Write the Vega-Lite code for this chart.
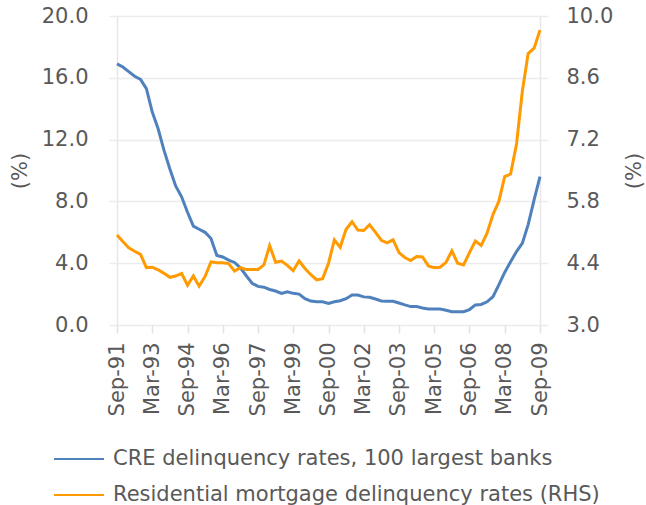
{
  "$schema": "https://vega.github.io/schema/vega-lite/v6.json",
  "width": 439,
  "height": 309,
  "autosize": {"type": "none"},
  "padding": {"left": 109, "top": 16, "right": 98, "bottom": 180},
  "background": "white",
  "config": {
    "font": "DejaVu Sans",
    "view": {"stroke": null},
    "axis": {
      "labelFont": "DejaVu Sans",
      "titleFont": "DejaVu Sans",
      "labelColor": "#595959",
      "titleColor": "#595959",
      "labelFontSize": 21,
      "titleFontSize": 21,
      "titleFontWeight": "normal"
    },
    "legend": {"labelFont": "DejaVu Sans"}
  },
  "data": {
    "values": [
      {"date": "1991-09-15", "cre": 16.9, "rmd": 5.04},
      {"date": "1991-12-15", "cre": 16.7, "rmd": 4.89},
      {"date": "1992-03-15", "cre": 16.4, "rmd": 4.75},
      {"date": "1992-06-15", "cre": 16.1, "rmd": 4.67},
      {"date": "1992-09-15", "cre": 15.9, "rmd": 4.6},
      {"date": "1992-12-15", "cre": 15.3, "rmd": 4.3},
      {"date": "1993-03-15", "cre": 13.8, "rmd": 4.31},
      {"date": "1993-06-15", "cre": 12.7, "rmd": 4.25},
      {"date": "1993-09-15", "cre": 11.3, "rmd": 4.17},
      {"date": "1993-12-15", "cre": 10.1, "rmd": 4.08},
      {"date": "1994-03-15", "cre": 9.0, "rmd": 4.11},
      {"date": "1994-06-15", "cre": 8.3, "rmd": 4.17},
      {"date": "1994-09-15", "cre": 7.3, "rmd": 3.9},
      {"date": "1994-12-15", "cre": 6.4, "rmd": 4.11},
      {"date": "1995-03-15", "cre": 6.2, "rmd": 3.88},
      {"date": "1995-06-15", "cre": 6.0, "rmd": 4.1},
      {"date": "1995-09-15", "cre": 5.6, "rmd": 4.43},
      {"date": "1995-12-15", "cre": 4.5, "rmd": 4.41},
      {"date": "1996-03-15", "cre": 4.4, "rmd": 4.41},
      {"date": "1996-06-15", "cre": 4.2, "rmd": 4.39},
      {"date": "1996-09-15", "cre": 4.05, "rmd": 4.22},
      {"date": "1996-12-15", "cre": 3.7, "rmd": 4.3},
      {"date": "1997-03-15", "cre": 3.2, "rmd": 4.26},
      {"date": "1997-06-15", "cre": 2.7, "rmd": 4.26},
      {"date": "1997-09-15", "cre": 2.5, "rmd": 4.26},
      {"date": "1997-12-15", "cre": 2.45, "rmd": 4.36},
      {"date": "1998-03-15", "cre": 2.3, "rmd": 4.8},
      {"date": "1998-06-15", "cre": 2.2, "rmd": 4.42},
      {"date": "1998-09-15", "cre": 2.05, "rmd": 4.45},
      {"date": "1998-12-15", "cre": 2.15, "rmd": 4.35},
      {"date": "1999-03-15", "cre": 2.05, "rmd": 4.23},
      {"date": "1999-06-15", "cre": 2.0, "rmd": 4.45},
      {"date": "1999-09-15", "cre": 1.7, "rmd": 4.28},
      {"date": "1999-12-15", "cre": 1.55, "rmd": 4.14},
      {"date": "2000-03-15", "cre": 1.5, "rmd": 4.02},
      {"date": "2000-06-15", "cre": 1.5, "rmd": 4.05},
      {"date": "2000-09-15", "cre": 1.4, "rmd": 4.4},
      {"date": "2000-12-15", "cre": 1.5, "rmd": 4.93},
      {"date": "2001-03-15", "cre": 1.57, "rmd": 4.76},
      {"date": "2001-06-15", "cre": 1.7, "rmd": 5.17},
      {"date": "2001-09-15", "cre": 1.94, "rmd": 5.34},
      {"date": "2001-12-15", "cre": 1.94, "rmd": 5.15},
      {"date": "2002-03-15", "cre": 1.82, "rmd": 5.14},
      {"date": "2002-06-15", "cre": 1.79, "rmd": 5.27},
      {"date": "2002-09-15", "cre": 1.68, "rmd": 5.1},
      {"date": "2002-12-15", "cre": 1.56, "rmd": 4.92},
      {"date": "2003-03-15", "cre": 1.53, "rmd": 4.86},
      {"date": "2003-06-15", "cre": 1.53, "rmd": 4.93},
      {"date": "2003-09-15", "cre": 1.42, "rmd": 4.64},
      {"date": "2003-12-15", "cre": 1.3, "rmd": 4.53},
      {"date": "2004-03-15", "cre": 1.19, "rmd": 4.46},
      {"date": "2004-06-15", "cre": 1.19, "rmd": 4.55},
      {"date": "2004-09-15", "cre": 1.1, "rmd": 4.54},
      {"date": "2004-12-15", "cre": 1.04, "rmd": 4.34},
      {"date": "2005-03-15", "cre": 1.04, "rmd": 4.3},
      {"date": "2005-06-15", "cre": 1.04, "rmd": 4.31},
      {"date": "2005-09-15", "cre": 0.95, "rmd": 4.42},
      {"date": "2005-12-15", "cre": 0.86, "rmd": 4.68},
      {"date": "2006-03-15", "cre": 0.86, "rmd": 4.4},
      {"date": "2006-06-15", "cre": 0.86, "rmd": 4.36},
      {"date": "2006-09-15", "cre": 1.0, "rmd": 4.64},
      {"date": "2006-12-15", "cre": 1.3, "rmd": 4.9},
      {"date": "2007-03-15", "cre": 1.33, "rmd": 4.8},
      {"date": "2007-06-15", "cre": 1.5, "rmd": 5.08},
      {"date": "2007-09-15", "cre": 1.83, "rmd": 5.5},
      {"date": "2007-12-15", "cre": 2.6, "rmd": 5.8},
      {"date": "2008-03-15", "cre": 3.4, "rmd": 6.36},
      {"date": "2008-06-15", "cre": 4.1, "rmd": 6.42},
      {"date": "2008-09-15", "cre": 4.75, "rmd": 7.1},
      {"date": "2008-12-15", "cre": 5.3, "rmd": 8.3},
      {"date": "2009-03-15", "cre": 6.5, "rmd": 9.15},
      {"date": "2009-06-15", "cre": 8.1, "rmd": 9.27},
      {"date": "2009-09-15", "cre": 9.6, "rmd": 9.68}
    ]
  },
  "encoding": {
    "x": {
      "field": "date",
      "type": "temporal",
      "scale": {
        "domain": [{"year": 1991, "month": 9, "date": 15}, {"year": 2009, "month": 9, "date": 15}],
        "padding": 8,
        "nice": false
      },
      "axis": {
        "title": null,
        "values": [
          {"year": 1991, "month": 9, "date": 15},
          {"year": 1993, "month": 3, "date": 15},
          {"year": 1994, "month": 9, "date": 15},
          {"year": 1996, "month": 3, "date": 15},
          {"year": 1997, "month": 9, "date": 15},
          {"year": 1999, "month": 3, "date": 15},
          {"year": 2000, "month": 9, "date": 15},
          {"year": 2002, "month": 3, "date": 15},
          {"year": 2003, "month": 9, "date": 15},
          {"year": 2005, "month": 3, "date": 15},
          {"year": 2006, "month": 9, "date": 15},
          {"year": 2008, "month": 3, "date": 15},
          {"year": 2009, "month": 9, "date": 15}
        ],
        "format": "%b-%y",
        "labelAngle": 270,
        "labelAlign": "right",
        "labelBaseline": "middle",
        "labelFlush": false,
        "labelOverlap": false,
        "labelPadding": 9,
        "tickSize": 8,
        "tickColor": "#e3e3e3",
        "tickWidth": 1.5,
        "domain": false,
        "grid": true,
        "gridWidth": 1.5,
        "gridColor": {
          "condition": {"test": "year(datum.value) == 1991 || year(datum.value) == 2009", "value": "#e8e8e8"},
          "value": "transparent"
        }
      }
    }
  },
  "layer": [
    {
      "mark": {"type": "line", "strokeWidth": 3},
      "encoding": {
        "y": {
          "field": "cre",
          "type": "quantitative",
          "scale": {"domain": [0, 20], "nice": false, "zero": false},
          "axis": {
            "values": [0, 4, 8, 12, 16, 20],
            "format": ".1f",
            "title": "(%)",
            "titlePadding": 11,
            "domain": false,
            "ticks": false,
            "grid": true,
            "gridColor": "#ececec",
            "gridWidth": 1.5,
            "labelPadding": 21
          }
        },
        "color": {
          "datum": "CRE delinquency rates, 100 largest banks",
          "type": "nominal",
          "scale": {
            "domain": ["CRE delinquency rates, 100 largest banks", "Residential mortgage delinquency rates (RHS)"],
            "range": ["#4F81BD", "#FF9A00"]
          },
          "legend": {
            "orient": "none",
            "legendX": -56,
            "legendY": 417,
            "direction": "vertical",
            "title": null,
            "symbolType": "stroke",
            "symbolSize": 2500,
            "symbolStrokeWidth": 2,
            "labelFontSize": 21,
            "labelColor": "#595959",
            "labelOffset": 8,
            "labelLimit": 0,
            "rowPadding": -16
          }
        }
      }
    },
    {
      "mark": {"type": "line", "strokeWidth": 3},
      "encoding": {
        "y": {
          "field": "rmd",
          "type": "quantitative",
          "scale": {"domain": [3, 10], "nice": false, "zero": false},
          "axis": {
            "orient": "right",
            "values": [3, 4.4, 5.8, 7.2, 8.6, 10],
            "format": ".1f",
            "title": "(%)",
            "titleAngle": 270,
            "titlePadding": 32,
            "domain": false,
            "ticks": false,
            "grid": false,
            "labelPadding": 18
          }
        },
        "color": {
          "datum": "Residential mortgage delinquency rates (RHS)",
          "type": "nominal"
        }
      }
    }
  ],
  "resolve": {"scale": {"y": "independent"}}
}
